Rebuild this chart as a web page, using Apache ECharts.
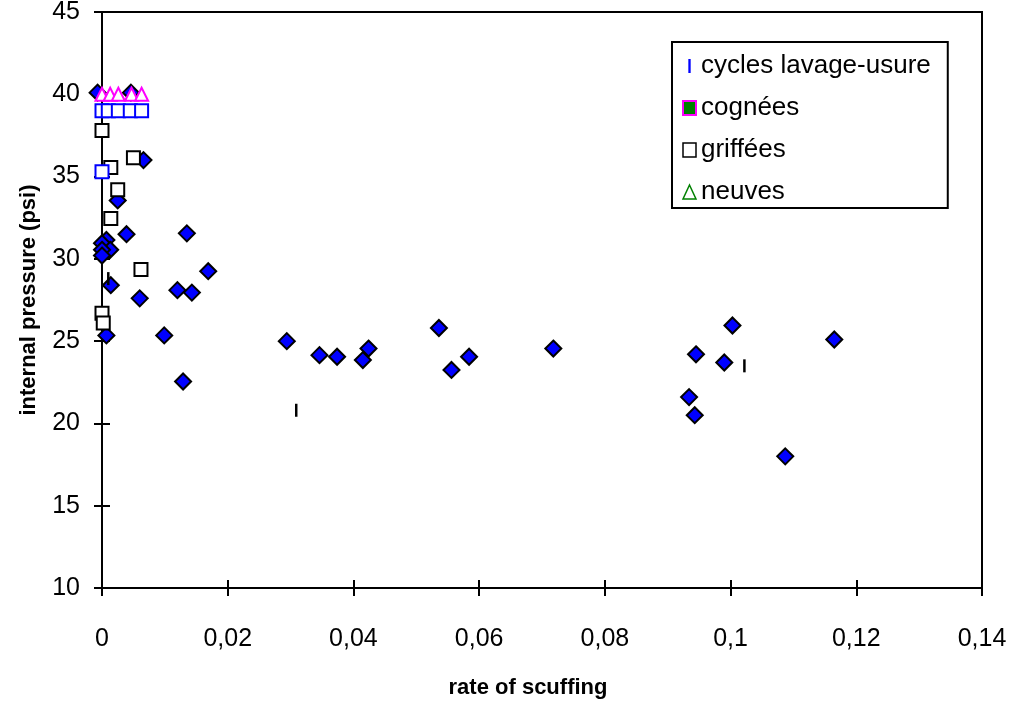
<!DOCTYPE html>
<html>
	<head>
		<title>rate of scuffing</title>
		<meta charset="utf-8">
		<style>
html, body {
	width: 100%;
	height: 100%;
	margin: 0;
	background: #fff;
}
			#box1 {
				width: 1010px;
				height: 701px;
			}
		</style>
	</head>
	<body>
		<div id="box1"></div>
	</body>
	<script src="https://cdn.jsdelivr.net/npm/echarts@6/dist/echarts.min.js"></script>
	<script type="text/javascript">
// axis ticks
var xTicks = [0, 0.02, 0.04, 0.06, 0.08, 0.1, 0.12, 0.14];
var yTicks = [10, 15, 20, 25, 30, 35, 40, 45];

// cycles lavage-usure (short dashes)
var lavageX = [0.001, 0.0309, 0.1022];
var lavageY = [28.8, 20.8, 23.5];

// cognées (magenta triangles on the 40 line)
var cogneesX = [0, 0.0013, 0.0026, 0.0047, 0.0063];
var cogneesY = [40, 40, 40, 40, 40];

// griffées (open black squares)
var griffeesX = [0, 0.005, 0.0014, 0.0025, 0.0014, 0.0062, 0, 0.0002];
var griffeesY = [37.8, 36.15, 35.55, 34.2, 32.45, 29.35, 26.7, 26.1];

// neuves (open blue squares)
var neuvesX = [0, 0.001, 0.0026, 0.0045, 0.0063, 0];
var neuvesY = [39, 39, 39, 39, 39, 35.3];

// other measures (blue diamonds)
var autresX = [-0.0007, 0.0046, 0.0066, 0.0025, 0.0039, 0.0135, 0.0007, 0, 0.0013, 0, 0,
	0.0169, 0.0014, 0.012, 0.0143, 0.006, 0.0007, 0.0099, 0.0294, 0.0129, 0.0346,
	0.0374, 0.0424, 0.0415, 0.0536, 0.0584, 0.0556, 0.0718, 0.1003, 0.0945, 0.099,
	0.0934, 0.0943, 0.1165, 0.1087];
var autresY = [40.1, 40.1, 36.0, 33.55, 31.5, 31.55, 31.15, 30.95, 30.55, 30.55, 30.2,
	29.25, 28.4, 28.1, 27.95, 27.6, 25.35, 25.35, 25.0, 22.55, 24.15,
	24.05, 24.55, 23.85, 25.8, 24.05, 23.25, 24.55, 25.95, 24.2, 23.7,
	21.6, 20.5, 25.1, 18.0];

function pairs(xs, ys) {
	var out = [];
	for (var i = 0; i < xs.length; i++) {
		out.push([xs[i], ys[i]]);
	}
	return out;
}

var font = '"Liberation Sans", Arial, sans-serif';

var myChart = echarts.init(document.getElementById('box1'));

var option = {
	backgroundColor: '#fff',
	animation: false,
	textStyle: { fontFamily: font, color: '#000' },
	grid: {
		left: 102, right: 28, top: 12, bottom: 113,
		outerBoundsMode: 'none',
		show: true, borderColor: '#000', borderWidth: 2
	},
	legend: {
		orient: 'vertical',
		left: 672, top: 42,
		padding: [9, 17, 1, 10],
		borderColor: '#000', borderWidth: 2,
		backgroundColor: '#fff',
		itemWidth: 13, itemHeight: 14,
		itemGap: 12, itemTextGap: 4,
		textStyle: { fontFamily: font, fontSize: 26, color: '#000', lineHeight: 30 },
		data: [
			{ name: 'cycles lavage-usure', icon: 'path://M0,0h1v6h-1z', itemStyle: { color: '#0000ff', borderWidth: 0 } },
			{ name: 'cognées', icon: 'rect', itemStyle: { color: '#008000', borderColor: '#ff00ff', borderWidth: 2 } },
			{ name: 'griffées', icon: 'rect', itemStyle: { color: '#fff', borderColor: '#000', borderWidth: 1.5 } },
			{ name: 'neuves', icon: 'triangle', itemStyle: { color: '#fff', borderColor: '#008000', borderWidth: 1.5 } }
		]
	},
	xAxis: [{
		type: 'value', min: 0, max: 0.14, interval: 0.02,
		name: 'rate of scuffing', nameLocation: 'middle', nameGap: 89,
		nameTextStyle: { fontFamily: font, fontSize: 22, fontWeight: 'bold', color: '#000', padding: [0, 28, 0, 0] },
		axisLine: { lineStyle: { color: '#000', width: 2 } },
		axisTick: { length: 8, lineStyle: { color: '#000', width: 2 } },
		axisLabel: {
			margin: 39, fontSize: 25, color: '#000', fontFamily: font,
			formatter: function (v) { return String(+v.toFixed(4)).replace('.', ','); }
		},
		splitLine: { show: false }
	}, {
		type: 'value', min: 0, max: 0.14, interval: 0.02, position: 'bottom',
		axisLine: { show: false },
		axisTick: { inside: true, length: 8, lineStyle: { color: '#000', width: 2 } },
		axisLabel: { show: false },
		splitLine: { show: false }
	}],
	yAxis: [{
		type: 'value', min: 10, max: 45, interval: 5,
		name: 'internal pressure (psi)', nameLocation: 'middle', nameGap: 62,
		nameTextStyle: { fontFamily: font, fontSize: 22, fontWeight: 'bold', color: '#000' },
		axisLine: { lineStyle: { color: '#000', width: 2 } },
		axisTick: { length: 8, lineStyle: { color: '#000', width: 2 } },
		axisLabel: { margin: 22, fontSize: 25, color: '#000', fontFamily: font },
		splitLine: { show: false }
	}, {
		type: 'value', min: 10, max: 45, interval: 5, position: 'left',
		axisLine: { show: false },
		axisTick: { inside: true, length: 8, lineStyle: { color: '#000', width: 2 } },
		axisLabel: { show: false },
		splitLine: { show: false }
	}],
	series: [{
		name: 'autres', type: 'scatter', clip: false,
		data: pairs(autresX, autresY),
		symbol: 'diamond', symbolSize: 16,
		itemStyle: { color: '#0000ff', borderColor: '#000', borderWidth: 2, opacity: 1 }
	}, {
		name: 'griffées', type: 'scatter', clip: false,
		data: pairs(griffeesX, griffeesY),
		symbol: 'rect', symbolSize: 13,
		itemStyle: { color: '#fff', borderColor: '#000', borderWidth: 2, opacity: 1 }
	}, {
		name: 'neuves', type: 'scatter', clip: false,
		data: pairs(neuvesX, neuvesY),
		symbol: 'rect', symbolSize: 13,
		itemStyle: { color: '#fff', borderColor: '#0000ff', borderWidth: 2, opacity: 1 }
	}, {
		name: 'cognées', type: 'scatter', clip: false,
		data: pairs(cogneesX, cogneesY),
		symbol: 'triangle', symbolSize: 13,
		itemStyle: { color: '#fff', borderColor: '#ff00ff', borderWidth: 2, opacity: 1 }
	}, {
		name: 'cycles lavage-usure', type: 'scatter', clip: false,
		data: pairs(lavageX, lavageY),
		symbol: 'rect', symbolSize: [2.5, 13],
		itemStyle: { color: '#000', borderWidth: 0, opacity: 1 }
	}]
};

myChart.setOption(option);

window.addEventListener('resize', () => {
	myChart.resize()
})
	</script>
</html>
